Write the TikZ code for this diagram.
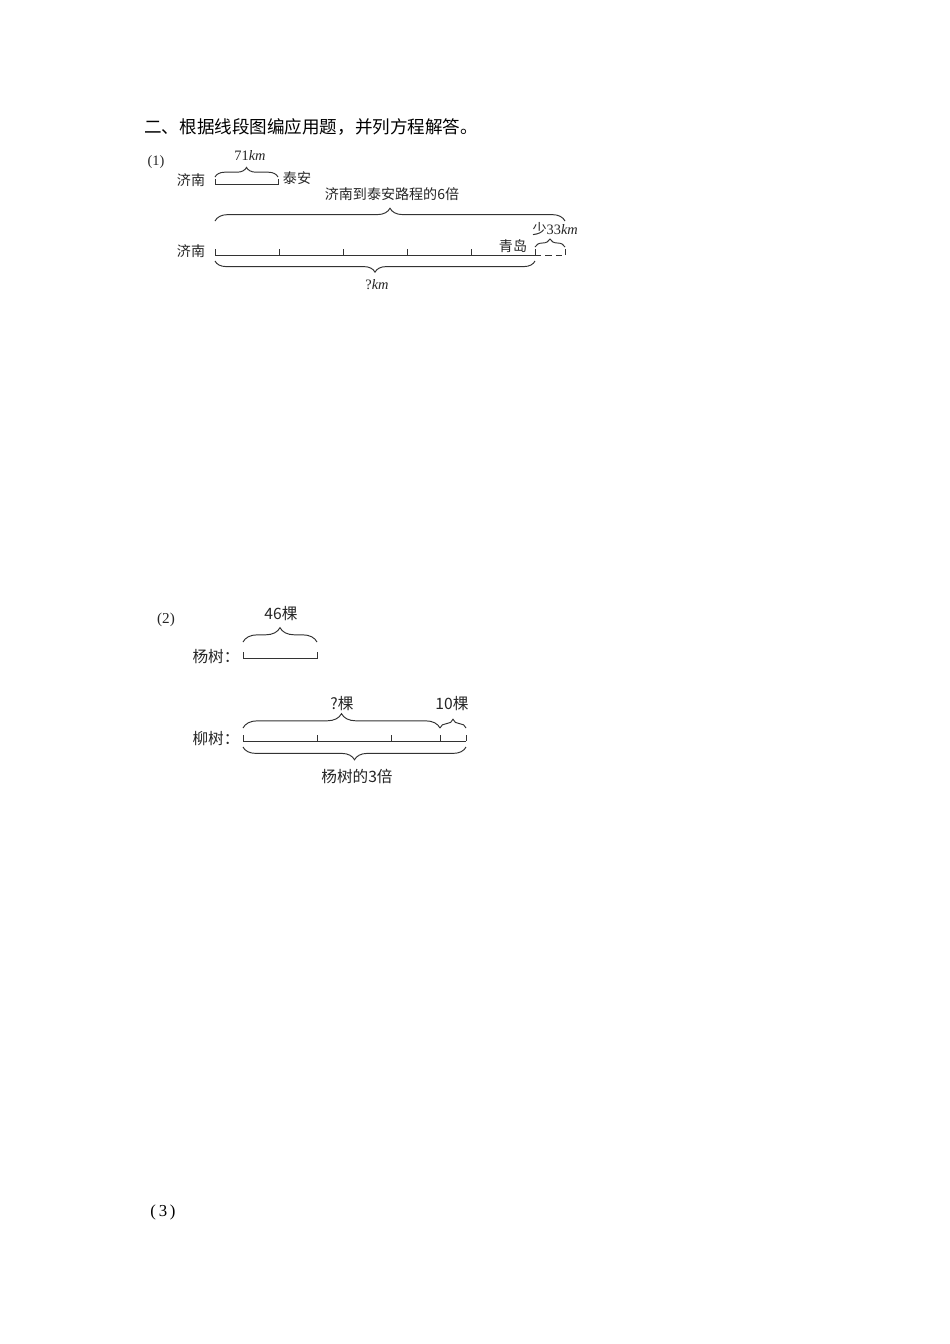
\documentclass[tikz,border=0pt]{standalone}
\usepackage{fontspec}
\setmainfont{Liberation Serif}
\newfontfamily\cjk{Noto Sans CJK SC}
\usetikzlibrary{decorations.pathreplacing,calc}
\tikzset{
  lblA/.style={font=\cjk\fontsize{8.8}{10}\selectfont, inner sep=0pt, text=black!85},
  lblB/.style={font=\cjk\fontsize{9.8}{11}\selectfont, inner sep=0pt, text=black!85},
  numlbl/.style={font=\fontsize{9}{10}\selectfont, inner sep=0pt, text=black!85},
  seg/.style={line width=0.6pt, draw=black!80},
  brc/.style={decorate, decoration={brace, amplitude=#1}, line width=0.6pt, draw=black!80},
  ubrc/.style={decorate, decoration={brace, mirror, amplitude=#1}, line width=0.6pt, draw=black!80},
}
\begin{document}
\begin{tikzpicture}[x=0.6263pt, y=-0.6263pt]
\useasboundingbox[fill=white] (0,0) rectangle (950,1344);

% heading
\node[anchor=west, font=\cjk\fontsize{11}{13}\selectfont, inner sep=0pt] (title) at (144,127) {二、根据线段图编应用题，并列方程解答。};

% ---------- (1) ----------
\node[numlbl] (n1) at (156,162) {(1)};
\node[lblA] (jn1) at (191,180) {济南};
\node[lblA] (ta) at (297,178) {泰安};
\node[numlbl] (d71) at (250,156) {71\textit{km}};
\coordinate (S0) at (215,184);
\coordinate (S1) at (278,184);
\draw[seg] ($(S0)+(0,-5)$) -- (S0) -- (S1) -- ($(S1)+(0,-5)$);
\draw[brc=6pt] (215,177) -- (278,177);

\node[lblA] (six) at (392,194) {济南到泰安路程的6倍};
\draw[brc=8pt] (215,221) -- (565,221);

\node[lblA] (jn2) at (191,251) {济南};
\node[lblA] (qd) at (513,246) {青岛};
\node[numlbl, anchor=west] (s33) at (532,229) {{\cjk 少}33\textit{km}};

\coordinate (A0) at (215,255);
\coordinate (A1) at (279,255);
\coordinate (A2) at (343,255);
\coordinate (A3) at (407,255);
\coordinate (A4) at (471,255);
\coordinate (A5) at (535,255);
\coordinate (A6) at (565,255);
\draw[seg] (A0) -- (A5);
\foreach \p in {A0,A1,A2,A3,A4,A5} \draw[seg] (\p) -- ++(0,-6);
\draw[seg, dashed, dash pattern=on 4pt off 2.5pt] (A5) -- (A6);
\draw[seg] (A6) -- ++(0,-6);
\draw[brc=5pt] (535,247) -- (565,247);

\draw[ubrc=7pt] (215,261) -- (535,261);
\node[numlbl] (qkm) at (377,285) {?\textit{km}};

% ---------- (2) ----------
\node[numlbl, font=\fontsize{9.5}{11}\selectfont] (n2) at (166,620) {(2)};
\node[lblB] (d46) at (281,614) {46棵};
\draw[brc=9pt] (243,642) -- (317,642);
\node[lblB] (ys) at (216,657) {杨树：};
\coordinate (B0) at (243,658);
\coordinate (B1) at (317,658);
\draw[seg] ($(B0)+(0,-6)$) -- (B0) -- (B1) -- ($(B1)+(0,-6)$);

\node[lblB] (qk) at (342,704) {?棵};
\node[lblB] (ten) at (452,704) {10棵};
\draw[brc=9pt] (243,728) -- (440,728);
\draw[brc=5.5pt] (440,728) -- (466,728);

\node[lblB] (ls) at (216,739) {柳树：};
\coordinate (C0) at (243,741);
\coordinate (C1) at (317,741);
\coordinate (C2) at (391,741);
\coordinate (C3) at (440,741);
\coordinate (C4) at (466,741);
\draw[seg] (C0) -- (C4);
\foreach \p in {C0,C1,C2,C3,C4} \draw[seg] (\p) -- ++(0,-6);
\draw[ubrc=8pt] (243,747) -- (466,747);
\node[lblB] (ys3) at (357,776) {杨树的3倍};

% ---------- (3) ----------
\node[font=\fontsize{10.5}{12}\selectfont, inner sep=0pt] (n3) at (163,1212) {(\,3\,)};
\end{tikzpicture}
\end{document}
